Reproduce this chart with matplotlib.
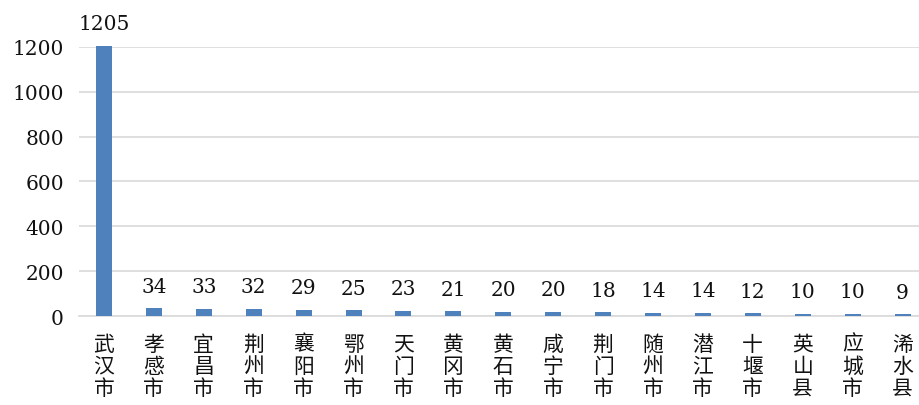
import matplotlib
matplotlib.use('Agg')
import matplotlib.pyplot as plt

plt.rcParams['font.family'] = ['DejaVu Serif', 'Noto Sans CJK SC']

cities = ['武汉市', '孝感市', '宜昌市', '荆州市', '襄阳市', '鄂州市', '天门市', '黄冈市',
          '黄石市', '咸宁市', '荆门市', '随州市', '潜江市', '十堰市', '英山县', '应城市', '浠水县']
counts = [1205, 34, 33, 32, 29, 25, 23, 21, 20, 20, 18, 14, 14, 12, 10, 10, 9]
yticks = [0, 200, 400, 600, 800, 1000, 1200]

fig = plt.figure(figsize=(9.19, 4.06), dpi=100)
ax = fig.add_axes([0.086, 0.219, 0.914, 0.663])

x = list(range(len(cities)))
bars = ax.bar(x, counts, width=0.32, color='#4F81BD', zorder=3, clip_on=False)

for xi, v in zip(x, counts):
    ax.annotate(str(v), (xi, v), xytext=(0, 9), textcoords='offset points',
                ha='center', va='bottom', fontsize=14.5, color='#111111',
                annotation_clip=False)

ax.set_xlim(-0.5, 16.33)
ax.set_ylim(0, 1200)
ax.set_yticks(yticks)
ax.set_yticklabels([str(t) for t in yticks], fontsize=14.5, color='#111111')
ax.set_xticks(x)
ax.set_xticklabels(['\n'.join(c) for c in cities], fontsize=15, linespacing=1.0,
                   family=['Noto Sans CJK SC', 'DejaVu Sans'], color='#111111')
ax.tick_params(axis='y', length=0, pad=11)
ax.tick_params(axis='x', length=0, pad=12)
ax.grid(axis='y', color='#D9D9D9', linewidth=1.2, zorder=0)

for s in ['top', 'right', 'left']:
    ax.spines[s].set_visible(False)
ax.spines['bottom'].set_color('#D9D9D9')
ax.spines['bottom'].set_linewidth(1.2)

fig.savefig('out.png', dpi=100)
